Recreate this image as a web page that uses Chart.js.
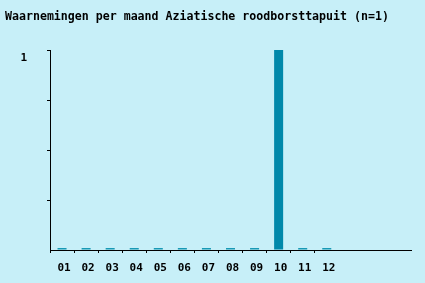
<!DOCTYPE html>
<html>
<head>
<meta charset="utf-8">
<script src="https://cdn.jsdelivr.net/npm/chart.js@4/dist/chart.umd.min.js"></script>
<style>
  html, body { margin: 0; padding: 0; background: #c7eff8; }
  #wrap { width: 425px; height: 283px; }
</style>
</head>
<body>
<div id="wrap"><canvas id="chart" width="425" height="283"></canvas></div>
<script>
// titel en data
const chartTitle = 'Waarnemingen per maand Aziatische roodborsttapuit (n=1)';
const monthLabels = ['01','02','03','04','05','06','07','08','09','10','11','12','','',''];
const counts = [0,0,0,0,0,0,0,0,0,1,0,0,null,null,null];
const yTicks = [0, 0.25, 0.5, 0.75, 1];

const monoFont = '"DejaVu Sans Mono", "Liberation Mono", monospace';

// titel linksboven tekenen
const titlePlugin = {
    id: 'titleText',
    afterDraw(chart) {
        const c = chart.ctx;
        c.save();
        c.font = 'bold 11.6px ' + monoFont;
        c.fillStyle = '#000';
        c.textAlign = 'left';
        c.textBaseline = 'alphabetic';
        c.fillText(chartTitle, 5, 20);
        c.restore();
    }
};

new Chart(document.getElementById('chart'), {
    type: 'bar',
    data: {
        labels: monthLabels,
        datasets: [{
            data: counts,
            backgroundColor: ctx => ctx.raw === 0 ? '#1899b5' : '#0088aa',
            borderWidth: 0,
            minBarLength: 2,
            barPercentage: 0.375,
            categoryPercentage: 1
        }]
    },
    options: {
        responsive: false,
        animation: false,
        events: [],
        layout: { padding: { top: 50, right: 14, left: 0, bottom: 0 } },
        plugins: { legend: { display: false }, tooltip: { enabled: false }, title: { display: false } },
        scales: {
            x: {
                afterFit(scale) { scale.height = 33; },
                grid: {
                    drawOnChartArea: false,
                    drawTicks: true,
                    tickLength: 3,
                    color: ctx => ctx.index < 12 ? '#000' : 'rgba(0,0,0,0)'
                },
                border: { display: true, color: '#000', width: 1 },
                ticks: {
                    color: '#000',
                    font: { family: monoFont, size: 11, weight: 'bold' },
                    padding: 9,
                    labelOffset: 2,
                    maxRotation: 0,
                    autoSkip: false
                }
            },
            y: {
                min: 0,
                max: 1,
                afterFit(scale) { scale.width = 50; },
                afterBuildTicks(scale) { scale.ticks = yTicks.map(v => ({ value: v })); },
                grid: {
                    drawOnChartArea: false,
                    drawTicks: true,
                    tickLength: 3,
                    color: ctx => ctx.tick && ctx.tick.value === 0 ? 'rgba(0,0,0,0)' : '#000'
                },
                border: { display: true, color: '#000', width: 1 },
                ticks: {
                    color: '#000',
                    font: { family: monoFont, size: 11, weight: 'bold' },
                    padding: 20,
                    labelOffset: 8,
                    callback: v => v === 1 ? '1' : ''
                }
            }
        }
    },
    plugins: [titlePlugin]
});
</script>
</body>
</html>
